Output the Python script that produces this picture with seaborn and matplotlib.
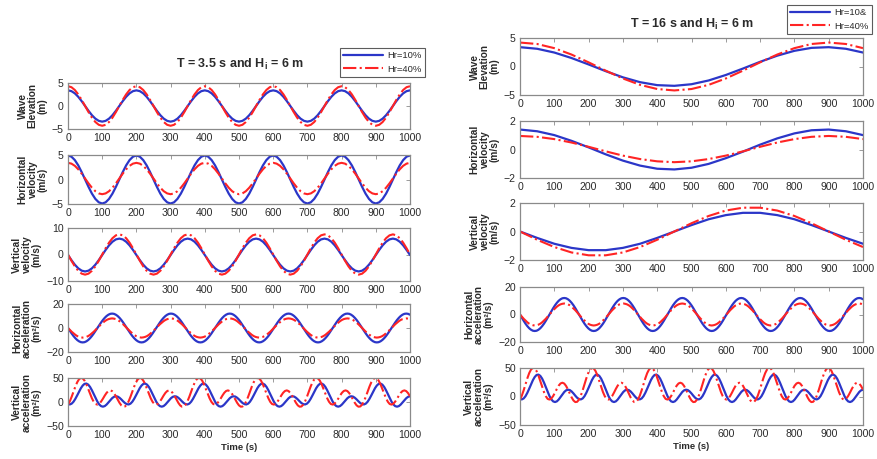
import numpy as np
import pandas as pd
import matplotlib
matplotlib.use('Agg')
import matplotlib.pyplot as plt
import seaborn as sns
from matplotlib.lines import Line2D

# ---------------- data ----------------
t_fast = np.arange(0, 1001, 10)          # left column, top three panels (101 samples)
t_acc = np.arange(187) * 5.375           # acceleration panels, both columns
t_slow = np.arange(0, 1001, 50)          # right column, top three panels

# T = 3.5 s : wave elevation (m)
elev35_hr10 = [
    3.4, 3.23, 2.75, 2.0, 1.05, 0.0, -1.05, -2.0, -2.75, -3.23, -3.4, -3.23, -2.75, -2.0, -1.05, 0.0, 1.05, 2.0, 2.75, 3.23,
    3.4, 3.23, 2.75, 2.0, 1.05, 0.0, -1.05, -2.0, -2.75, -3.23, -3.4, -3.23, -2.75, -2.0, -1.05, 0.0, 1.05, 2.0, 2.75, 3.23,
    3.4, 3.23, 2.75, 2.0, 1.05, 0.0, -1.05, -2.0, -2.75, -3.23, -3.4, -3.23, -2.75, -2.0, -1.05, 0.0, 1.05, 2.0, 2.75, 3.23,
    3.4, 3.23, 2.75, 2.0, 1.05, 0.0, -1.05, -2.0, -2.75, -3.23, -3.4, -3.23, -2.75, -2.0, -1.05, 0.0, 1.05, 2.0, 2.75, 3.23,
    3.4, 3.23, 2.75, 2.0, 1.05, 0.0, -1.05, -2.0, -2.75, -3.23, -3.4, -3.23, -2.75, -2.0, -1.05, 0.0, 1.05, 2.0, 2.75, 3.23,
    3.4]
elev35_hr40 = [
    4.3, 4.09, 3.48, 2.53, 1.33, 0.0, -1.33, -2.53, -3.48, -4.09, -4.3, -4.09, -3.48, -2.53, -1.33, 0.0, 1.33, 2.53, 3.48, 4.09,
    4.3, 4.09, 3.48, 2.53, 1.33, 0.0, -1.33, -2.53, -3.48, -4.09, -4.3, -4.09, -3.48, -2.53, -1.33, 0.0, 1.33, 2.53, 3.48, 4.09,
    4.3, 4.09, 3.48, 2.53, 1.33, 0.0, -1.33, -2.53, -3.48, -4.09, -4.3, -4.09, -3.48, -2.53, -1.33, 0.0, 1.33, 2.53, 3.48, 4.09,
    4.3, 4.09, 3.48, 2.53, 1.33, 0.0, -1.33, -2.53, -3.48, -4.09, -4.3, -4.09, -3.48, -2.53, -1.33, 0.0, 1.33, 2.53, 3.48, 4.09,
    4.3, 4.09, 3.48, 2.53, 1.33, 0.0, -1.33, -2.53, -3.48, -4.09, -4.3, -4.09, -3.48, -2.53, -1.33, 0.0, 1.33, 2.53, 3.48, 4.09,
    4.3]
# T = 3.5 s : horizontal velocity (m/s)
hvel35_hr10 = [
    4.9, 4.66, 3.96, 2.88, 1.51, 0.0, -1.51, -2.88, -3.96, -4.66, -4.9, -4.66, -3.96, -2.88, -1.51, 0.0, 1.51, 2.88, 3.96, 4.66,
    4.9, 4.66, 3.96, 2.88, 1.51, 0.0, -1.51, -2.88, -3.96, -4.66, -4.9, -4.66, -3.96, -2.88, -1.51, 0.0, 1.51, 2.88, 3.96, 4.66,
    4.9, 4.66, 3.96, 2.88, 1.51, 0.0, -1.51, -2.88, -3.96, -4.66, -4.9, -4.66, -3.96, -2.88, -1.51, 0.0, 1.51, 2.88, 3.96, 4.66,
    4.9, 4.66, 3.96, 2.88, 1.51, 0.0, -1.51, -2.88, -3.96, -4.66, -4.9, -4.66, -3.96, -2.88, -1.51, 0.0, 1.51, 2.88, 3.96, 4.66,
    4.9, 4.66, 3.96, 2.88, 1.51, 0.0, -1.51, -2.88, -3.96, -4.66, -4.9, -4.66, -3.96, -2.88, -1.51, 0.0, 1.51, 2.88, 3.96, 4.66,
    4.9]
hvel35_hr40 = [
    3.4, 3.24, 2.79, 2.08, 1.19, 0.2, -0.79, -1.68, -2.39, -2.84, -3.0, -2.84, -2.39, -1.68, -0.79, 0.2, 1.19, 2.08, 2.79, 3.24,
    3.4, 3.24, 2.79, 2.08, 1.19, 0.2, -0.79, -1.68, -2.39, -2.84, -3.0, -2.84, -2.39, -1.68, -0.79, 0.2, 1.19, 2.08, 2.79, 3.24,
    3.4, 3.24, 2.79, 2.08, 1.19, 0.2, -0.79, -1.68, -2.39, -2.84, -3.0, -2.84, -2.39, -1.68, -0.79, 0.2, 1.19, 2.08, 2.79, 3.24,
    3.4, 3.24, 2.79, 2.08, 1.19, 0.2, -0.79, -1.68, -2.39, -2.84, -3.0, -2.84, -2.39, -1.68, -0.79, 0.2, 1.19, 2.08, 2.79, 3.24,
    3.4, 3.24, 2.79, 2.08, 1.19, 0.2, -0.79, -1.68, -2.39, -2.84, -3.0, -2.84, -2.39, -1.68, -0.79, 0.2, 1.19, 2.08, 2.79, 3.24,
    3.4]
# T = 3.5 s : vertical velocity (m/s)
vvel35_hr10 = [
    -0.2, -2.12, -3.85, -5.22, -6.1, -6.4, -6.1, -5.22, -3.85, -2.12, -0.2, 1.72, 3.45, 4.82, 5.7, 6.0, 5.7, 4.82, 3.45, 1.72,
    -0.2, -2.12, -3.85, -5.22, -6.1, -6.4, -6.1, -5.22, -3.85, -2.12, -0.2, 1.72, 3.45, 4.82, 5.7, 6.0, 5.7, 4.82, 3.45, 1.72,
    -0.2, -2.12, -3.85, -5.22, -6.1, -6.4, -6.1, -5.22, -3.85, -2.12, -0.2, 1.72, 3.45, 4.82, 5.7, 6.0, 5.7, 4.82, 3.45, 1.72,
    -0.2, -2.12, -3.85, -5.22, -6.1, -6.4, -6.1, -5.22, -3.85, -2.12, -0.2, 1.72, 3.45, 4.82, 5.7, 6.0, 5.7, 4.82, 3.45, 1.72,
    -0.2, -2.12, -3.85, -5.22, -6.1, -6.4, -6.1, -5.22, -3.85, -2.12, -0.2, 1.72, 3.45, 4.82, 5.7, 6.0, 5.7, 4.82, 3.45, 1.72,
    -0.2]
vvel35_hr40 = [
    0.0, -2.35, -4.47, -6.15, -7.23, -7.6, -7.23, -6.15, -4.47, -2.35, 0.0, 2.35, 4.47, 6.15, 7.23, 7.6, 7.23, 6.15, 4.47, 2.35,
    0.0, -2.35, -4.47, -6.15, -7.23, -7.6, -7.23, -6.15, -4.47, -2.35, 0.0, 2.35, 4.47, 6.15, 7.23, 7.6, 7.23, 6.15, 4.47, 2.35,
    0.0, -2.35, -4.47, -6.15, -7.23, -7.6, -7.23, -6.15, -4.47, -2.35, 0.0, 2.35, 4.47, 6.15, 7.23, 7.6, 7.23, 6.15, 4.47, 2.35,
    0.0, -2.35, -4.47, -6.15, -7.23, -7.6, -7.23, -6.15, -4.47, -2.35, 0.0, 2.35, 4.47, 6.15, 7.23, 7.6, 7.23, 6.15, 4.47, 2.35,
    0.0, -2.35, -4.47, -6.15, -7.23, -7.6, -7.23, -6.15, -4.47, -2.35, 0.0, 2.35, 4.47, 6.15, 7.23, 7.6, 7.23, 6.15, 4.47, 2.35,
    0.0]

# horizontal acceleration (m2/s) - identical curves in both columns
hacc_hr10 = [
    0.0, -2.3, -4.6, -6.7, -8.5, -10.0, -11.1, -11.8, -12.0, -11.8, -11.1, -10.0, -8.5, -6.7, -4.6, -2.3, 0.0, 2.3, 4.6, 6.7, 8.5, 10.0, 11.1, 11.8, 12.0, 11.8, 11.1, 10.0, 8.5, 6.7, 4.6, 2.3,
    0.0, -2.3, -4.6, -6.7, -8.5, -10.0, -11.1, -11.8, -12.0, -11.8, -11.1, -10.0, -8.5, -6.7, -4.6, -2.3, 0.0, 2.3, 4.6, 6.7, 8.5, 10.0, 11.1, 11.8, 12.0, 11.8, 11.1, 10.0, 8.5, 6.7, 4.6, 2.3,
    0.0, -2.3, -4.6, -6.7, -8.5, -10.0, -11.1, -11.8, -12.0, -11.8, -11.1, -10.0, -8.5, -6.7, -4.6, -2.3, 0.0, 2.3, 4.6, 6.7, 8.5, 10.0, 11.1, 11.8, 12.0, 11.8, 11.1, 10.0, 8.5, 6.7, 4.6, 2.3,
    0.0, -2.3, -4.6, -6.7, -8.5, -10.0, -11.1, -11.8, -12.0, -11.8, -11.1, -10.0, -8.5, -6.7, -4.6, -2.3, 0.0, 2.3, 4.6, 6.7, 8.5, 10.0, 11.1, 11.8, 12.0, 11.8, 11.1, 10.0, 8.5, 6.7, 4.6, 2.3,
    0.0, -2.3, -4.6, -6.7, -8.5, -10.0, -11.1, -11.8, -12.0, -11.8, -11.1, -10.0, -8.5, -6.7, -4.6, -2.3, 0.0, 2.3, 4.6, 6.7, 8.5, 10.0, 11.1, 11.8, 12.0, 11.8, 11.1, 10.0, 8.5, 6.7, 4.6, 2.3,
    0.0, -2.3, -4.6, -6.7, -8.5, -10.0, -11.1, -11.8, -12.0, -11.8, -11.1, -10.0, -8.5, -6.7, -4.6, -2.3, 0.0, 2.3, 4.6, 6.7, 8.5, 10.0, 11.1, 11.8, 12.0, 11.8, 11.1]
hacc_hr40 = [
    0.0, -1.6, -3.1, -4.4, -5.7, -6.7, -7.4, -7.8, -8.0, -7.8, -7.4, -6.7, -5.7, -4.4, -3.1, -1.6, 0.0, 1.6, 3.1, 4.4, 5.7, 6.7, 7.4, 7.8, 8.0, 7.8, 7.4, 6.7, 5.7, 4.4, 3.1, 1.6,
    0.0, -1.6, -3.1, -4.4, -5.7, -6.7, -7.4, -7.8, -8.0, -7.8, -7.4, -6.7, -5.7, -4.4, -3.1, -1.6, 0.0, 1.6, 3.1, 4.4, 5.7, 6.7, 7.4, 7.8, 8.0, 7.8, 7.4, 6.7, 5.7, 4.4, 3.1, 1.6,
    0.0, -1.6, -3.1, -4.4, -5.7, -6.7, -7.4, -7.8, -8.0, -7.8, -7.4, -6.7, -5.7, -4.4, -3.1, -1.6, 0.0, 1.6, 3.1, 4.4, 5.7, 6.7, 7.4, 7.8, 8.0, 7.8, 7.4, 6.7, 5.7, 4.4, 3.1, 1.6,
    0.0, -1.6, -3.1, -4.4, -5.7, -6.7, -7.4, -7.8, -8.0, -7.8, -7.4, -6.7, -5.7, -4.4, -3.1, -1.6, 0.0, 1.6, 3.1, 4.4, 5.7, 6.7, 7.4, 7.8, 8.0, 7.8, 7.4, 6.7, 5.7, 4.4, 3.1, 1.6,
    0.0, -1.6, -3.1, -4.4, -5.7, -6.7, -7.4, -7.8, -8.0, -7.8, -7.4, -6.7, -5.7, -4.4, -3.1, -1.6, 0.0, 1.6, 3.1, 4.4, 5.7, 6.7, 7.4, 7.8, 8.0, 7.8, 7.4, 6.7, 5.7, 4.4, 3.1, 1.6,
    0.0, -1.6, -3.1, -4.4, -5.7, -6.7, -7.4, -7.8, -8.0, -7.8, -7.4, -6.7, -5.7, -4.4, -3.1, -1.6, 0.0, 1.6, 3.1, 4.4, 5.7, 6.7, 7.4, 7.8, 8.0, 7.8, 7.4]
# vertical acceleration (m2/s)
vacc_hr10 = [
    -4.5, -5.1, -3.4, 0.6, 6.6, 13.8, 21.5, 28.7, 34.3, 37.8, 38.4, 36.2, 31.4, 24.5, 16.4, 8.2, 0.7, -5.1, -8.6, -9.7, -8.5, -5.3, -0.9, 3.7, 7.9, 10.8, 11.9, 11.3, 8.9, 5.4, 1.4, -2.2,
    -4.5, -5.1, -3.4, 0.6, 6.6, 13.8, 21.5, 28.7, 34.3, 37.8, 38.4, 36.2, 31.4, 24.5, 16.4, 8.2, 0.7, -5.1, -8.6, -9.7, -8.5, -5.3, -0.9, 3.7, 7.9, 10.8, 11.9, 11.3, 8.9, 5.4, 1.4, -2.2,
    -4.5, -5.1, -3.4, 0.6, 6.6, 13.8, 21.5, 28.7, 34.3, 37.8, 38.4, 36.2, 31.4, 24.5, 16.4, 8.2, 0.7, -5.1, -8.6, -9.7, -8.5, -5.3, -0.9, 3.7, 7.9, 10.8, 11.9, 11.3, 8.9, 5.4, 1.4, -2.2,
    -4.5, -5.1, -3.4, 0.6, 6.6, 13.8, 21.5, 28.7, 34.3, 37.8, 38.4, 36.2, 31.4, 24.5, 16.4, 8.2, 0.7, -5.1, -8.6, -9.7, -8.5, -5.3, -0.9, 3.7, 7.9, 10.8, 11.9, 11.3, 8.9, 5.4, 1.4, -2.2,
    -4.5, -5.1, -3.4, 0.6, 6.6, 13.8, 21.5, 28.7, 34.3, 37.8, 38.4, 36.2, 31.4, 24.5, 16.4, 8.2, 0.7, -5.1, -8.6, -9.7, -8.5, -5.3, -0.9, 3.7, 7.9, 10.8, 11.9, 11.3, 8.9, 5.4, 1.4, -2.2,
    -4.5, -5.1, -3.4, 0.6, 6.6, 13.8, 21.5, 28.7, 34.3, 37.8, 38.4, 36.2, 31.4, 24.5, 16.4, 8.2, 0.7, -5.1, -8.6, -9.7, -8.5, -5.3, -0.9, 3.7, 7.9, 10.8, 11.9]
vacc_hr40 = [
    -5.4, 1.6, 11.0, 21.7, 32.1, 41.1, 47.4, 50.2, 49.2, 44.5, 36.8, 27.2, 17.1, 7.8, 0.4, -4.2, -5.4, -3.5, 0.9, 6.9, 13.4, 19.1, 22.9, 24.2, 22.7, 18.5, 12.3, 5.2, -1.6, -7.0, -9.8, -9.3,
    -5.4, 1.6, 11.0, 21.7, 32.1, 41.1, 47.4, 50.2, 49.2, 44.5, 36.8, 27.2, 17.1, 7.8, 0.4, -4.2, -5.4, -3.5, 0.9, 6.9, 13.4, 19.1, 22.9, 24.2, 22.7, 18.5, 12.3, 5.2, -1.6, -7.0, -9.8, -9.3,
    -5.4, 1.6, 11.0, 21.7, 32.1, 41.1, 47.4, 50.2, 49.2, 44.5, 36.8, 27.2, 17.1, 7.8, 0.4, -4.2, -5.4, -3.5, 0.9, 6.9, 13.4, 19.1, 22.9, 24.2, 22.7, 18.5, 12.3, 5.2, -1.6, -7.0, -9.8, -9.3,
    -5.4, 1.6, 11.0, 21.7, 32.1, 41.1, 47.4, 50.2, 49.2, 44.5, 36.8, 27.2, 17.1, 7.8, 0.4, -4.2, -5.4, -3.5, 0.9, 6.9, 13.4, 19.1, 22.9, 24.2, 22.7, 18.5, 12.3, 5.2, -1.6, -7.0, -9.8, -9.3,
    -5.4, 1.6, 11.0, 21.7, 32.1, 41.1, 47.4, 50.2, 49.2, 44.5, 36.8, 27.2, 17.1, 7.8, 0.4, -4.2, -5.4, -3.5, 0.9, 6.9, 13.4, 19.1, 22.9, 24.2, 22.7, 18.5, 12.3, 5.2, -1.6, -7.0, -9.8, -9.3,
    -5.4, 1.6, 11.0, 21.7, 32.1, 41.1, 47.4, 50.2, 49.2, 44.5, 36.8, 27.2, 17.1, 7.8, 0.4, -4.2, -5.4, -3.5, 0.9, 6.9, 13.4, 19.1, 22.9, 24.2, 22.7, 18.5, 12.3]

# T = 16 s
elev16_hr10 = [3.39, 3.11, 2.45, 1.49, 0.36, -0.82, -1.90, -2.75, -3.27, -3.39, -3.11,
               -2.45, -1.49, -0.36, 0.82, 1.90, 2.75, 3.27, 3.39, 3.11, 2.45]
elev16_hr40 = [4.2, 3.95, 3.22, 2.1, 0.73, -0.73, -2.1, -3.22, -3.95, -4.2, -3.95,
               -3.22, -2.1, -0.73, 0.73, 2.1, 3.22, 3.95, 4.2, 3.95, 3.22]
hvel16_hr10 = [1.40, 1.28, 1.01, 0.61, 0.15, -0.34, -0.78, -1.13, -1.35, -1.40, -1.28,
               -1.01, -0.61, -0.15, 0.34, 0.78, 1.13, 1.35, 1.40, 1.28, 1.01]
hvel16_hr40 = [0.95, 0.89, 0.73, 0.49, 0.19, -0.13, -0.43, -0.67, -0.83, -0.89, -0.83,
               -0.67, -0.43, -0.13, 0.19, 0.49, 0.73, 0.89, 0.95, 0.89, 0.73]
vvel16_hr10 = [0.0, -0.45, -0.86, -1.15, -1.31, -1.31, -1.15, -0.86, -0.45, 0.0, 0.45,
               0.86, 1.15, 1.31, 1.31, 1.15, 0.86, 0.45, 0.0, -0.45, -0.86]
vvel16_hr40 = [0.0, -0.58, -1.09, -1.47, -1.67, -1.67, -1.47, -1.09, -0.58, 0.0, 0.58,
               1.09, 1.47, 1.67, 1.67, 1.47, 1.09, 0.58, 0.0, -0.58, -1.09]

ylabels = ["Wave\nElevation\n(m)", "Horizontal\nvelocity\n(m/s)", "Vertical\nvelocity\n(m/s)",
           "Horizontal\nacceleration\n(m²/s)", "Vertical\nacceleration\n(m²/s)"]
x_ticks = [0, 100, 200, 300, 400, 500, 600, 700, 800, 900, 1000]
left_title = r"T = 3.5 s and H$_{\mathbf{i}}$ = 6 m"
right_title = r"T = 16 s and H$_{\mathbf{i}}$ = 6 m"
left_legend = ["Hr=10%", "Hr=40%"]
right_legend = ["Hr=10&", "Hr=40%"]

# ---------------- styling ----------------
sns.set_theme(style='white')
plt.rcParams['font.family'] = ['Liberation Sans', 'DejaVu Sans']
plt.rcParams['mathtext.fontset'] = 'custom'
plt.rcParams['mathtext.rm'] = 'Liberation Sans'
plt.rcParams['mathtext.bf'] = 'Liberation Sans:bold'
plt.rcParams['mathtext.it'] = 'Liberation Sans:italic'

BLUE = '#2b36c8'
RED = '#ff2424'
EDGE = '#8a8a8a'
TXT = '#2a2a2a'

W, H = 877, 459
fig = plt.figure(figsize=(W / 100, H / 100), dpi=100)
fig.patch.set_facecolor('white')

left_rects = [(83, 129), (155, 204), (228, 281), (304, 352), (378, 426)]
right_rects = [(38, 95), (121, 178), (203, 260), (287, 342), (368, 425)]

left_panels = [
    (t_fast, elev35_hr10, elev35_hr40, (-5, 5), [-5, 0, 5]),
    (t_fast, hvel35_hr10, hvel35_hr40, (-5, 5), [-5, 0, 5]),
    (t_fast, vvel35_hr10, vvel35_hr40, (-10, 10), [-10, 0, 10]),
    (t_acc, hacc_hr10, hacc_hr40, (-20, 20), [-20, 0, 20]),
    (t_acc, vacc_hr10, vacc_hr40, (-50, 50), [-50, 0, 50]),
]
right_panels = [
    (t_slow, elev16_hr10, elev16_hr40, (-5, 5), [-5, 0, 5]),
    (t_slow, hvel16_hr10, hvel16_hr40, (-2, 2), [-2, 0, 2]),
    (t_slow, vvel16_hr10, vvel16_hr40, (-2, 2), [-2, 0, 2]),
    (t_acc, hacc_hr10, hacc_hr40, (-20, 20), [-20, 0, 20]),
    (t_acc, vacc_hr10, vacc_hr40, (-50, 50), [-50, 0, 50]),
]


def draw_column(x0, x1, rects, panels):
    axes = []
    for i, ((top, bot), (t, s10, s40, ylim, yt)) in enumerate(zip(rects, panels)):
        ax = fig.add_axes([x0 / W, 1 - bot / H, (x1 - x0) / W, (bot - top) / H])
        df = pd.DataFrame({'t': t, 'hr10': s10, 'hr40': s40})
        sns.lineplot(data=df, x='t', y='hr10', ax=ax, color=BLUE, lw=1.6, legend=False)
        sns.lineplot(data=df, x='t', y='hr40', ax=ax, color=RED, lw=1.5,
                     linestyle='-.', legend=False)
        ax.set_xlim(0, 1000)
        ax.set_ylim(*ylim)
        ax.set_xticks(x_ticks)
        ax.set_yticks(yt)
        ax.tick_params(direction='in', length=3, width=0.6, colors=EDGE,
                       labelcolor=TXT, labelsize=7.6, top=True, right=True, pad=3)
        for sp in ax.spines.values():
            sp.set_color(EDGE)
            sp.set_linewidth(0.9)
        ax.set_xlabel('')
        ax.set_ylabel(ylabels[i], fontsize=7.3, fontweight='bold', color=TXT,
                      linespacing=1.0, multialignment='center', labelpad=3)
        axes.append(ax)
    axes[-1].set_xlabel('Time (s)', fontsize=6.8, fontweight='bold', color=TXT, labelpad=2)
    return axes


draw_column(68, 410, left_rects, left_panels)
draw_column(520, 863, right_rects, right_panels)

fig.text(240 / W, 1 - 64 / H, left_title, ha='center', va='center',
         fontsize=9, fontweight='bold', color=TXT)
fig.text(692 / W, 1 - 24 / H, right_title, ha='center', va='center',
         fontsize=9, fontweight='bold', color=TXT)


def add_legend(labels, x, y):
    handles = [Line2D([], [], color=BLUE, lw=1.6),
               Line2D([], [], color=RED, lw=1.5, linestyle='-.')]
    leg = fig.legend(handles, labels, loc='upper left', bbox_to_anchor=(x / W, 1 - y / H),
                     fontsize=6.8, frameon=True, fancybox=False, borderaxespad=0,
                     handlelength=4.2, handletextpad=0.5, borderpad=0.35, labelspacing=0.45)
    leg.get_frame().set_edgecolor('#333333')
    leg.get_frame().set_linewidth(0.8)
    for txt in leg.get_texts():
        txt.set_color(TXT)


add_legend(left_legend, 340, 48)
add_legend(right_legend, 787, 5)

fig.savefig('out.png', dpi=100, facecolor='white')
